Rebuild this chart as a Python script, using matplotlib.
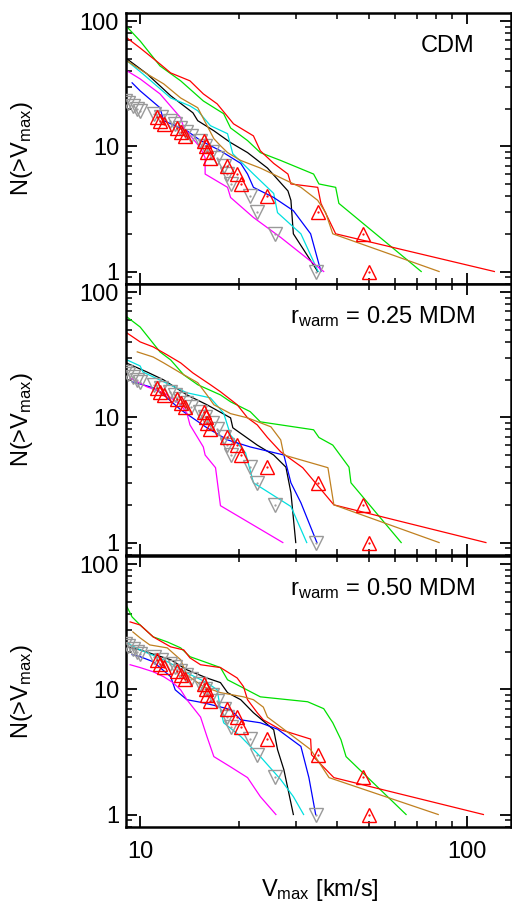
import matplotlib
matplotlib.use("Agg")
import matplotlib.pyplot as plt
from matplotlib.ticker import NullFormatter

plt.rcParams['font.family'] = ['Liberation Sans', 'DejaVu Sans']
plt.rcParams['mathtext.default'] = 'regular'

# observed satellites (same in every panel)
mw_v = [34.4, 25.8, 22.8, 21.6, 19.0, 18.4, 18.0, 17.2, 16.6, 15.8, 15.2, 14.3,
        13.8, 13.2, 12.8, 12.3, 11.6, 11.0, 10.0, 9.8, 9.5, 9.2, 9.0]
mw_n = [1, 2, 3, 4, 5, 6, 7, 8, 9, 10, 11, 12, 13, 14, 15, 16, 17, 18, 19, 20, 21, 22, 23]
m31_v = [50.0, 48.0, 35.0, 24.4, 20.4, 19.8, 18.4, 16.4, 16.0, 15.9, 15.7, 13.7,
         13.3, 13.0, 11.8, 11.5, 11.3]
m31_n = [1, 2, 3, 4, 5, 6, 7, 8, 9, 10, 11, 12, 13, 14, 15, 16, 17]

# --- CDM ---
cdm_green_v = [9.12, 10, 11.5, 13.3, 15.6, 18.0, 18.9, 21.3, 23.3, 26.9, 33.9, 35.2, 39.6, 40.5, 72.3]
cdm_green_n = [89.6, 69.3, 43.8, 33.3, 23.0, 18.2, 14.0, 11.1, 8.9, 7.7, 6.0, 5.0, 4.7, 3.5, 1.0]
cdm_red_v = [9.12, 10, 11.5, 12.4, 14.2, 15.6, 17.2, 19.3, 22.2, 23.3, 25.6, 28.3, 28.9, 34.9, 35.7, 39.6, 121]
cdm_red_n = [73.2, 60.9, 45.4, 38.5, 33.3, 26.2, 21.8, 15.1, 12.1, 9.2, 7.3, 6.0, 5.0, 4.7, 3.5, 2.0, 1.0]
cdm_black_v = [9.12, 10.5, 12.4, 14.5, 15.0, 16.8, 18.9, 21.3, 24.5, 26.9, 28.3, 28.9, 29.4, 34.9]
cdm_black_n = [49.8, 37.8, 25.3, 18.5, 16.0, 13.3, 10.7, 8.9, 6.7, 5.1, 4.4, 3.7, 2.0, 1.0]
cdm_cyan_v = [9.12, 10.2, 12.4, 14.2, 15.0, 16.4, 18.5, 19.2, 22.2, 25.6, 26.3, 31.0, 35.0]
cdm_cyan_n = [48.0, 37.8, 24.3, 21.0, 19.2, 14.6, 12.6, 8.7, 6.0, 4.2, 2.95, 2.0, 1.0]
cdm_blue_v = [9.45, 10, 11.5, 11.8, 13.9, 15.3, 17.6, 20.3, 21.3, 22.2, 25.6, 29.4, 33.2, 35.7]
cdm_blue_n = [32.1, 27.7, 20.3, 16.0, 13.3, 11.1, 9.2, 7.3, 6.0, 4.7, 3.9, 3.06, 2.0, 1.0]
cdm_magenta_v = [9.12, 10, 11.5, 13.3, 13.6, 15.3, 15.8, 15.8, 18.5, 18.9, 22.2, 26.9, 36.4]
cdm_magenta_n = [40.0, 34.5, 26.2, 16.9, 14.0, 9.7, 8.1, 6.0, 4.7, 3.9, 2.7, 1.87, 1.0]
cdm_brown_v = [9.12, 10.5, 11.8, 13.3, 15.0, 16.8, 17.6, 18.5, 20.3, 23.3, 26.9, 31.0, 34.9, 36.9, 38.8, 82.0]
cdm_brown_n = [48.0, 37.8, 31.5, 24.3, 20.3, 11.5, 10.1, 8.9, 7.7, 6.7, 5.6, 4.7, 3.7, 2.95, 2.0, 1.0]

# --- r_warm = 0.25 MDM ---
w25_green_v = [9.12, 10, 11.5, 12.4, 13.6, 15.0, 17.6, 18.9, 21.7, 23.3, 26.9, 33.9, 35.2, 38.8, 43.5, 44.1, 62.8]
w25_green_n = [63.2, 52.6, 33.3, 28.7, 21.8, 18.2, 15.1, 13.3, 11.1, 9.2, 8.7, 7.95, 6.9, 6.0, 4.0, 3.0, 1.0]
w25_red_v = [9.12, 10, 10.96, 12.1, 13.3, 14.5, 16.4, 17.6, 19.8, 21.3, 22.8, 24.5, 26.9, 31.4, 39.1, 114]
w25_red_n = [47.1, 40.0, 36.5, 31.5, 27.2, 22.6, 18.2, 16.0, 12.6, 9.9, 8.7, 6.9, 5.3, 3.96, 2.0, 1.0]
w25_black_v = [9.12, 10.5, 11.8, 13.9, 16.0, 18.9, 19.2, 22.8, 25.6, 27.9, 28.9, 29.9]
w25_black_n = [27.0, 23.0, 19.9, 15.1, 12.6, 9.9, 8.25, 6.0, 5.0, 4.0, 2.5, 1.0]
w25_cyan_v = [9.12, 10, 10.2, 11.8, 13.9, 16.4, 18.0, 18.9, 21.0, 22.2, 24.5, 28.9, 32.3]
w25_cyan_n = [28.7, 25.7, 23.0, 19.2, 15.7, 14.3, 10.8, 7.2, 5.2, 3.0, 2.55, 1.94, 1.0]
w25_blue_v = [9.45, 10.2, 10.96, 11.8, 13.3, 16.0, 18.5, 21.7, 27.5, 28.9, 31.0, 34.7]
w25_blue_n = [19.2, 18.2, 17.2, 15.1, 11.5, 8.25, 6.6, 5.8, 5.0, 3.0, 2.08, 1.0]
w25_magenta_v = [9.32, 10.5, 11.8, 13.3, 13.9, 14.2, 15.6, 15.8, 17.0, 17.6, 27.3]
w25_magenta_n = [20.6, 17.5, 15.7, 12.6, 10.8, 8.7, 5.8, 5.0, 3.96, 1.97, 1.0]
w25_brown_v = [9.8, 10.96, 11.8, 13.3, 15.0, 16.0, 16.8, 18.9, 21.3, 25.1, 26.9, 27.5, 37.5, 39.1, 82.0]
w25_brown_n = [33.3, 30.3, 27.2, 22.6, 18.9, 15.1, 12.6, 10.7, 9.9, 8.4, 6.6, 5.0, 3.96, 2.0, 1.0]

# --- r_warm = 0.50 MDM ---
w50_green_v = [9.12, 9.45, 10, 10.96, 12.1, 13.3, 14.2, 16.0, 17.6, 18.5, 20.3, 23.3, 32.5, 36.4, 38.8, 41.1, 42.6, 65.0]
w50_green_n = [45.4, 37.8, 32.6, 26.2, 23.9, 21.4, 18.2, 16.3, 14.9, 11.9, 10.5, 8.7, 7.95, 7.0, 5.4, 3.96, 2.9, 1.0]
w50_red_v = [9.32, 10, 10.96, 12.4, 13.6, 14.2, 15.3, 17.6, 19.8, 20.7, 21.3, 22.8, 23.8, 26.9, 33.2, 33.4, 39.1, 112]
w50_red_n = [34.5, 32.6, 26.2, 21.8, 20.6, 17.8, 15.7, 14.9, 12.3, 10.5, 8.25, 6.5, 5.7, 4.75, 4.0, 3.0, 1.97, 1.0]
w50_black_v = [9.12, 10, 12.4, 13.9, 16.0, 17.6, 18.5, 20.3, 22.2, 25.6, 26.3, 27.5, 29.4]
w50_black_n = [21.8, 20.6, 17.2, 14.3, 12.3, 11.3, 9.4, 8.25, 6.5, 4.75, 3.3, 2.28, 1.0]
w50_cyan_v = [9.12, 10, 11.8, 12.6, 13.9, 16.0, 17.2, 17.6, 18.0, 20.3, 23.3, 26.9, 29.4, 31.6]
w50_cyan_n = [23.4, 20.6, 17.2, 15.7, 13.5, 11.3, 9.9, 6.9, 5.4, 4.2, 2.9, 1.9, 1.39, 1.0]
w50_blue_v = [9.45, 10, 10.96, 12.4, 12.8, 13.9, 15.6, 18.9, 20.3, 23.3, 26.3, 31.0, 32.8, 34.4]
w50_blue_n = [18.9, 18.2, 16.6, 12.6, 9.9, 8.25, 7.8, 6.9, 5.7, 5.4, 4.8, 3.5, 1.97, 1.0]
w50_magenta_v = [9.32, 10, 10.96, 11.8, 12.6, 13.3, 13.9, 15.3, 16.0, 16.8, 18.9, 21.3, 23.3, 26.0]
w50_magenta_n = [15.7, 14.9, 13.8, 12.6, 11.3, 9.9, 8.25, 6.0, 4.2, 2.9, 2.4, 1.97, 1.39, 1.0]
w50_brown_v = [9.5, 10, 10.7, 12.1, 13.3, 13.9, 15.6, 17.6, 20.7, 22.2, 23.8, 24.5, 26.9, 33.2, 37.8, 81.5]
w50_brown_n = [28.7, 25.7, 22.6, 21.4, 17.2, 13.0, 10.5, 9.4, 8.7, 8.25, 7.2, 6.0, 5.0, 3.3, 1.97, 1.0]

panel_labels = ['CDM', r'r$_{warm}$ = 0.25 MDM', r'r$_{warm}$ = 0.50 MDM']

colors = {'green': '#00e000', 'red': '#ff0000', 'black': '#000000', 'cyan': '#00e0e0',
          'blue': '#0000ff', 'magenta': '#ff00ff', 'brown': '#c08020'}

panels = [
    [('green', cdm_green_v, cdm_green_n), ('red', cdm_red_v, cdm_red_n),
     ('black', cdm_black_v, cdm_black_n), ('cyan', cdm_cyan_v, cdm_cyan_n),
     ('blue', cdm_blue_v, cdm_blue_n), ('magenta', cdm_magenta_v, cdm_magenta_n),
     ('brown', cdm_brown_v, cdm_brown_n)],
    [('green', w25_green_v, w25_green_n), ('red', w25_red_v, w25_red_n),
     ('black', w25_black_v, w25_black_n), ('cyan', w25_cyan_v, w25_cyan_n),
     ('blue', w25_blue_v, w25_blue_n), ('magenta', w25_magenta_v, w25_magenta_n),
     ('brown', w25_brown_v, w25_brown_n)],
    [('green', w50_green_v, w50_green_n), ('red', w50_red_v, w50_red_n),
     ('black', w50_black_v, w50_black_n), ('cyan', w50_cyan_v, w50_cyan_n),
     ('blue', w50_blue_v, w50_blue_n), ('magenta', w50_magenta_v, w50_magenta_n),
     ('brown', w50_brown_v, w50_brown_n)],
]

fig = plt.figure(figsize=(5.12, 9.05), dpi=100)
left, width = 0.246, 0.752
bottoms = [0.6862, 0.3867, 0.0862]
h = 0.2995

for i, lines in enumerate(panels):
    ax = fig.add_axes([left, bottoms[i], width, h])
    for c, v, n in lines:
        ax.plot(v, n, color=colors[c], lw=0.9, zorder=2)
    # observed points (open triangles with a small centre dot)
    ax.plot(mw_v, mw_n, linestyle='none', marker='v', ms=9.5, mfc='none',
            mec='#999999', mew=1.0, zorder=3)
    ax.plot(mw_v, mw_n, linestyle='none', marker='.', ms=1.2, color='#999999', zorder=3)
    ax.plot(m31_v, m31_n, linestyle='none', marker='^', ms=9.5, mfc='none',
            mec='#ff0000', mew=1.0, zorder=4)
    ax.plot(m31_v, m31_n, linestyle='none', marker='.', ms=1.2, color='#ff0000', zorder=4)

    ax.set_xscale('log')
    ax.set_yscale('log')
    ax.set_xlim(9.05, 136)
    ax.set_ylim(0.795, 116)
    ax.set_yticks([1, 10, 100])
    ax.set_yticklabels(['1', '10', '100'])
    ax.yaxis.set_minor_formatter(NullFormatter())
    ax.set_xticks([10, 100])
    ax.xaxis.set_minor_formatter(NullFormatter())
    if i < 2:
        ax.set_xticklabels([])
    else:
        ax.set_xticklabels(['10', '100'])
        ax.set_xlabel(r'V$_{max}$ [km/s]', fontsize=17)
        ax.xaxis.set_label_coords(0.504, -0.185)
    ax.tick_params(which='both', direction='in', top=True, right=True, labelsize=17)
    ax.tick_params(which='major', length=8, width=1.3)
    ax.tick_params(which='minor', length=4, width=1.1)
    ax.tick_params(axis='x', pad=10)
    ax.tick_params(axis='y', pad=5)
    for s in ax.spines.values():
        s.set_linewidth(1.8)
    ax.set_ylabel(r'N(>V$_{max}$)', fontsize=17)
    ax.yaxis.set_label_coords(-0.235, 0.5)
    ax.text(0.906, 0.856, panel_labels[i], transform=ax.transAxes,
            ha='right', va='baseline', fontsize=17)

fig.savefig('out.png', dpi=100)
